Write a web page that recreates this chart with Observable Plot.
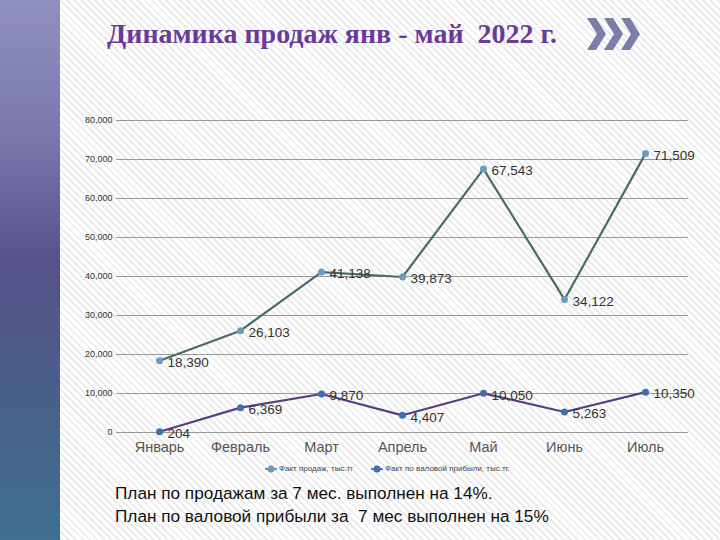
<!DOCTYPE html>
<html>
<head>
<meta charset="utf-8">
<script src="https://cdn.jsdelivr.net/npm/d3@7"></script>
<script src="https://cdn.jsdelivr.net/npm/@observablehq/plot@0.6"></script>
<style>
  html, body { margin: 0; padding: 0; }
  #page {
    position: relative; width: 720px; height: 540px; overflow: hidden;
    background: repeating-linear-gradient(45deg, #ffffff 0px, #ffffff 3px, #ececec 3px, #ececec 5px);
    font-family: "Liberation Sans", Arial, sans-serif;
  }
  #side {
    position: absolute; left: 0; top: 0; width: 60px; height: 540px;
    background: linear-gradient(to bottom, #9090c0 0%, #7a78ad 25%, #56528a 48%, #4a5d88 70%, #3f7090 100%);
  }
  #title {
    position: absolute; left: 107px; top: 18px; white-space: pre;
    font-family: "Liberation Serif", "Times New Roman", serif; font-weight: bold;
    font-size: 28px; color: #6a3a98;
  }
  #chev { position: absolute; left: 587px; top: 16px; }
  #chart { position: absolute; left: 70px; top: 100px; }
  #legend {
    position: absolute; left: 0; top: 464px; width: 720px; font-size: 8px; color: #444;
  }
  .li { position: absolute; white-space: nowrap; }
  .li svg { vertical-align: middle; margin-right: 2px; }
  #caption {
    position: absolute; left: 115px; top: 482px; font-family: "Liberation Sans", Arial, sans-serif;
    font-size: 17.2px; line-height: 23px; color: #111; white-space: pre;
  }
</style>
</head>
<body>
<div id="page">
  <div id="side"></div>
  <div id="title">Динамика продаж янв - май  2022 г.</div>
  <svg id="chev" width="60" height="36" viewBox="0 0 60 36">
    <polygon points="0,2 9,2 19,18 9,34 0,34 10,18" fill="#7b7ea9"/>
    <polygon points="17,2 26,2 36,18 26,34 17,34 27,18" fill="#7b7ea9"/>
    <polygon points="34,2 43,2 53,18 43,34 34,34 44,18" fill="#7b7ea9"/>
  </svg>
  <div id="chart"></div>
  <div id="legend">
    <div class="li" style="left:265px"><svg width="12" height="8"><line x1="0" y1="4" x2="12" y2="4" stroke="#4a6b6b" stroke-width="1.5"/><circle cx="6" cy="4" r="3.5" fill="#6a9cc0"/></svg>Факт продаж, тыс.тг</div>
    <div class="li" style="left:371px"><svg width="12" height="8"><line x1="0" y1="4" x2="12" y2="4" stroke="#5a3f80" stroke-width="1.5"/><circle cx="6" cy="4" r="3.5" fill="#3f70aa"/></svg>Факт по валовой прибыли, тыс.тг.</div>
  </div>
  <div id="caption">План по продажам за 7 мес. выполнен на 14%.
План по валовой прибыли за  7 мес выполнен на 15%</div>
</div>
<script>
const months = ["Январь", "Февраль", "Март", "Апрель", "Май", "Июнь", "Июль"];
const sales = [18390, 26103, 41138, 39873, 67543, 34122, 71509];
const profit = [204, 6369, 9870, 4407, 10050, 5263, 10350];
const yTicks = [0, 10000, 20000, 30000, 40000, 50000, 60000, 70000, 80000];

const salesData = months.map((m, i) => ({month: m, value: sales[i]}));
const profitData = months.map((m, i) => ({month: m, value: profit[i]}));
const fmt = d3.format(",");

const chart = Plot.plot({
  width: 650,
  height: 362,
  marginLeft: 46,
  marginRight: 32,
  marginTop: 20,
  marginBottom: 30,
  style: {background: "transparent", overflow: "visible", fontFamily: "Liberation Sans, Arial, sans-serif"},
  x: {type: "point", domain: months, padding: 0.5, label: null},
  y: {domain: [0, 80000], ticks: yTicks, label: null, tickFormat: fmt},
  marks: [
    Plot.ruleY(yTicks, {stroke: "#9a9a9a", strokeWidth: 1.2}),
    Plot.axisY({ticks: yTicks, tickSize: 0, tickPadding: 4, tickFormat: fmt, fontSize: 9, fill: "#333", label: null}),
    Plot.axisX({tickSize: 0, tickPadding: 9, fontSize: 14.5, fill: "#555", label: null}),
    Plot.line(salesData, {x: "month", y: "value", stroke: "#4a6b6b", strokeWidth: 2.2}),
    Plot.line(profitData, {x: "month", y: "value", stroke: "#5a3f80", strokeWidth: 2.2}),
    Plot.dot(salesData, {x: "month", y: "value", r: 3.5, fill: "#6a9cc0"}),
    Plot.dot(profitData, {x: "month", y: "value", r: 3.5, fill: "#3f70aa"}),
    Plot.text(salesData, {x: "month", y: "value", text: d => fmt(d.value), dx: 8, dy: 2, textAnchor: "start", fontSize: 13.5, fill: "#333"}),
    Plot.text(profitData, {x: "month", y: "value", text: d => fmt(d.value), dx: 8, dy: 2, textAnchor: "start", fontSize: 13.5, fill: "#333"})
  ]
});
document.getElementById("chart").appendChild(chart);
</script>
</body>
</html>
